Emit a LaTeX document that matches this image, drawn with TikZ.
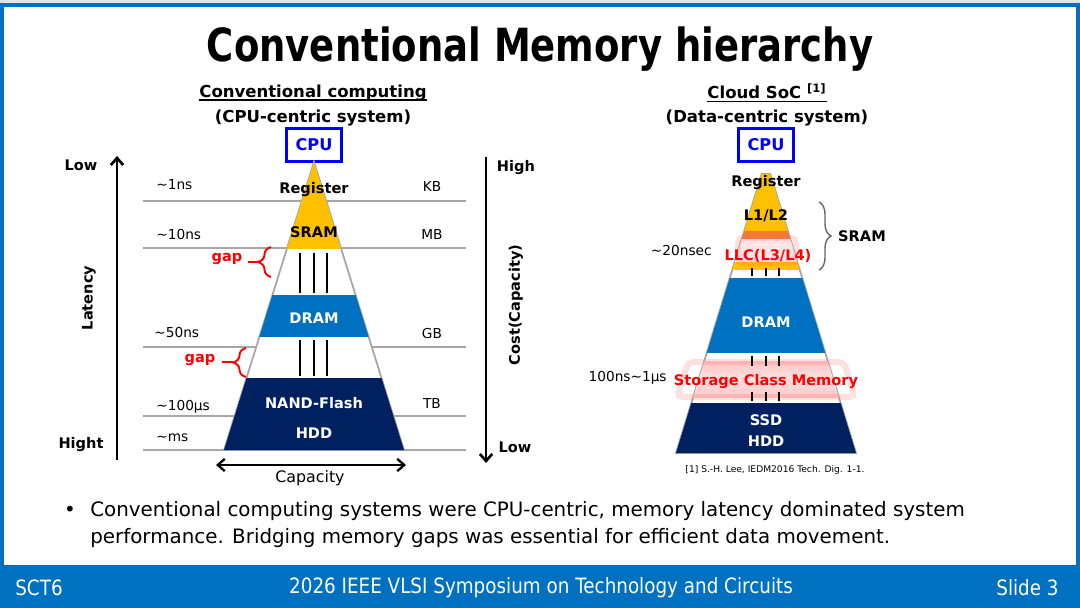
\documentclass[tikz,border=0pt]{standalone}
\usepackage{fontspec}
\setmainfont{DejaVu Sans}
\newfontfamily\condfont[FakeStretch=0.81]{DejaVu Sans}
\newfontfamily\footfont[FakeStretch=0.87]{DejaVu Sans}
\usetikzlibrary{arrows.meta,decorations.pathreplacing,positioning}
\definecolor{slideblue}{HTML}{0070C0}
\definecolor{navy}{HTML}{002060}
\definecolor{gold}{HTML}{FFC000}
\definecolor{amber}{HTML}{ED7D31}
\definecolor{cpublue}{HTML}{0000FF}
\definecolor{rulegray}{HTML}{A6A6A6}

\tikzset{
  lbl/.style={font=\fontsize{7.8}{9}\selectfont, inner sep=0pt},
  lyr/.style={font=\bfseries\fontsize{8.3}{9}\selectfont, inner sep=0pt},
  sidelbl/.style={font=\bfseries\fontsize{8.3}{9}\selectfont, inner sep=0pt},
  head/.style={font=\bfseries\fontsize{9.4}{11}\selectfont, inner sep=0pt},
  foot/.style={font=\footfont\fontsize{12}{13}\selectfont, text=white, inner sep=0pt},
  cpubox/.style={draw=cpublue, line width=1.2pt, text=cpublue, font=\bfseries\fontsize{9.2}{10}\selectfont, minimum width=1.1cm, minimum height=0.66cm, inner sep=0pt},
  levelline/.style={draw=rulegray, line width=0.6pt},
  gapbar/.style={line width=1.1pt},
  glow/.style={draw=red!60, opacity=0.2, line width=3.5pt, rounded corners=3pt},
  redbrace/.style={draw=red, line width=1.1pt, decorate, decoration={brace, amplitude=0.26cm}},
  bigarrow/.style={line width=1.5pt, -{Straight Barb[length=4pt,width=7pt]}},
}

\begin{document}
\begin{tikzpicture}[x=0.02cm, y=-0.02cm]
    \useasboundingbox (0,0) rectangle (1080,608);
    \fill[white] (0,0) rectangle (1080,608);
    \fill[gray!20] (0,0) rectangle (1080,3);
    \fill[slideblue] (0,3) rectangle (1080,7);
    \fill[slideblue] (0,3) rectangle (4,565);
    \fill[slideblue] (1076,3) rectangle (1080,565);
    \fill[slideblue] (0,565) rectangle (1080,608);

    \node[font=\condfont\bfseries\fontsize{26}{28}\selectfont, anchor=base] (title) at (540,62) {Conventional Memory hierarchy};

    % left: CPU-centric
    \node[head, anchor=base] (lhead) at (313,98) {Conventional computing};
    \draw[line width=0.8pt] ([yshift=-0.04cm]lhead.base west) -- ([yshift=-0.04cm]lhead.base east);
    \node[head, anchor=base] (lsub) at (313,123) {(CPU-centric system)};
    \node[cpubox] (cpu1) at (314,145) {CPU};

    \foreach \y in {201,248,347,416,450}
        \draw[levelline] (143,\y) -- (466,\y);

    \draw[rulegray, fill=white, line width=1pt] (314,162) -- (404,450) -- (224,450) -- cycle;
    \begin{scope}
        \clip (314,162) -- (404,450) -- (224,450) -- cycle;
        \fill[gold] (200,150) rectangle (430,249);
        \fill[slideblue] (200,295) rectangle (430,337);
        \fill[navy] (200,378) rectangle (430,452);
    \end{scope}
    \foreach \x in {300,314,327} {
        \draw[gapbar] (\x,253) -- (\x,293);
        \draw[gapbar] (\x,340) -- (\x,376);
    }

    \node[lyr] (reg1) at (314,190) {Register};
    \node[lyr] (sram1) at (314,232) {SRAM};
    \node[lyr, text=white] (dram1) at (314,318) {DRAM};
    \node[lyr, text=white] (nand1) at (314,403) {NAND-Flash};
    \node[lyr, text=white] (hdd1) at (314,433) {HDD};

    \node[lbl, anchor=west] (t1) at (156,185) {\textasciitilde1ns};
    \node[lbl, anchor=west] (t2) at (156,235) {\textasciitilde10ns};
    \node[lbl, anchor=west] (t3) at (154,333) {\textasciitilde50ns};
    \node[lbl, anchor=west] (t4) at (156,407) {\textasciitilde100µs};
    \node[lbl, anchor=west] (t5) at (156,438) {\textasciitilde ms};
    \node[lbl] (kb) at (432,187) {KB};
    \node[lbl] (mb) at (432,235) {MB};
    \node[lbl] (gb) at (432,334) {GB};
    \node[lbl] (tb) at (432,404) {TB};

    \node[sidelbl, text=red] (gap1) at (227,259) {gap};
    \coordinate (gb1a) at (271,277);
    \coordinate (gb1b) at (271,247);
    \draw[redbrace] (gb1a) -- (gb1b);
    \draw[red, line width=1pt] (258,262) -- (248,262);
    \node[sidelbl, text=red] (gap2) at (200,360) {gap};
    \coordinate (gb2a) at (246,377);
    \coordinate (gb2b) at (246,348);
    \draw[redbrace] (gb2a) -- (gb2b);
    \draw[red, line width=1pt] (233,362) -- (222,362);

    \coordinate (latbot) at (117,460);
    \coordinate (lattop) at (117,156);
    \draw[bigarrow] (latbot) -- (lattop);
    \node[sidelbl] (low1) at (81,165) {Low};
    \node[sidelbl] (high1) at (81,445) {Hight};
    \node[sidelbl, rotate=90] (lat) at (89,298) {Latency};

    \coordinate (costtop) at (486,157);
    \coordinate (costbot) at (486,463);
    \draw[bigarrow] (costtop) -- (costbot);
    \node[sidelbl] (high2) at (516,168) {High};
    \node[sidelbl] (low2) at (515,447) {Low};
    \node[sidelbl, rotate=90] (cost) at (516,305) {Cost(Capacity)};

    \coordinate (capl) at (216,465);
    \coordinate (capr) at (406,465);
    \draw[line width=1.3pt, {Straight Barb[length=4pt,width=7pt]}-{Straight Barb[length=4pt,width=7pt]}] (capl) -- (capr);
    \node[lbl, font=\fontsize{9}{10}\selectfont] (cap) at (310,478) {Capacity};

    % right: data-centric
    \node[head, anchor=base] (rhead) at (767,99) {Cloud SoC \textsuperscript{[1]}};
    \draw[line width=0.8pt] ([yshift=-0.05cm]rhead.base west) -- ([yshift=-0.05cm]rhead.base east);
    \node[head, anchor=base] (rsub) at (767,123) {(Data-centric system)};
    \node[cpubox] (cpu2) at (766,145) {CPU};

    \draw[rulegray, fill=white, line width=1pt] (761.7,174) -- (770.3,174) -- (856,453) -- (676,453) -- cycle;
    \begin{scope}
        \clip (761.7,174) -- (770.3,174) -- (856,453) -- (676,453) -- cycle;
        \fill[gold] (650,170) rectangle (880,270);
        \fill[amber] (650,231) rectangle (880,239);
        \fill[red!10] (650,239) rectangle (880,262);
        \fill[slideblue] (650,278) rectangle (880,353);
        \shade[top color=red!22, bottom color=red!22, middle color=red!12] (650,362) rectangle (880,397);
        \fill[navy] (650,403) rectangle (880,455);
    \end{scope}
    \draw[glow] (738,238) rectangle (796,263);
    \draw[glow] (688,362) -- (844,362) -- (855,397) -- (677,397) -- cycle;
    \foreach \x in {752,766,779} {
        \draw[gapbar] (\x,268) -- (\x,276);
        \draw[gapbar] (\x,356) -- (\x,366);
        \draw[gapbar] (\x,392) -- (\x,401);
    }

    \node[lyr] (reg2) at (766,183) {Register};
    \node[lyr] (l12) at (766,216) {L1/L2};
    \node[lyr, text=red] (llc) at (768,256) {LLC(L3/L4)};
    \node[lyr, text=white] (dram2) at (766,322) {DRAM};
    \node[lyr, text=red] (scm) at (766,382) {Storage Class Memory};
    \node[lyr, text=white] (ssd) at (766,420) {SSD};
    \node[lyr, text=white] (hdd2) at (766,441) {HDD};

    \node[lbl, anchor=east] (t20) at (712,251) {\textasciitilde20nsec};
    \node[lbl, anchor=east] (t100) at (667,378) {100ns\textasciitilde1µs};

    \coordinate (sbtop) at (819,202);
    \coordinate (sbbot) at (819,270);
    \draw[gray!80!black, line width=0.8pt, decorate, decoration={brace, amplitude=0.24cm}] (sbtop) -- (sbbot);
    \node[sidelbl] (sramlbl) at (862,236) {SRAM};

    \node[font=\fontsize{5.2}{6}\selectfont] (ref) at (775,470) {[1] S.-H. Lee, IEDM2016 Tech. Dig. 1-1.};

    % bullet
    \node[font=\fontsize{11.3}{12}\selectfont, inner sep=0pt] (dot) at (70,511) {•};
    \node[anchor=north west, align=left, inner sep=0pt, font=\fontsize{11.3}{15.3}\selectfont] (body) at (90,501)
        {Conventional computing systems were CPU-centric, memory latency dominated system\\performance. Bridging memory gaps was essential for efficient data movement.};

    % footer
    \node[foot, anchor=west] (fleft) at (15,588) {SCT6};
    \node[foot] (fmid) at (541,588) {2026 IEEE VLSI Symposium on Technology and Circuits};
    \node[foot, anchor=east] (fright) at (1059,588) {Slide 3};
\end{tikzpicture}
\end{document}
